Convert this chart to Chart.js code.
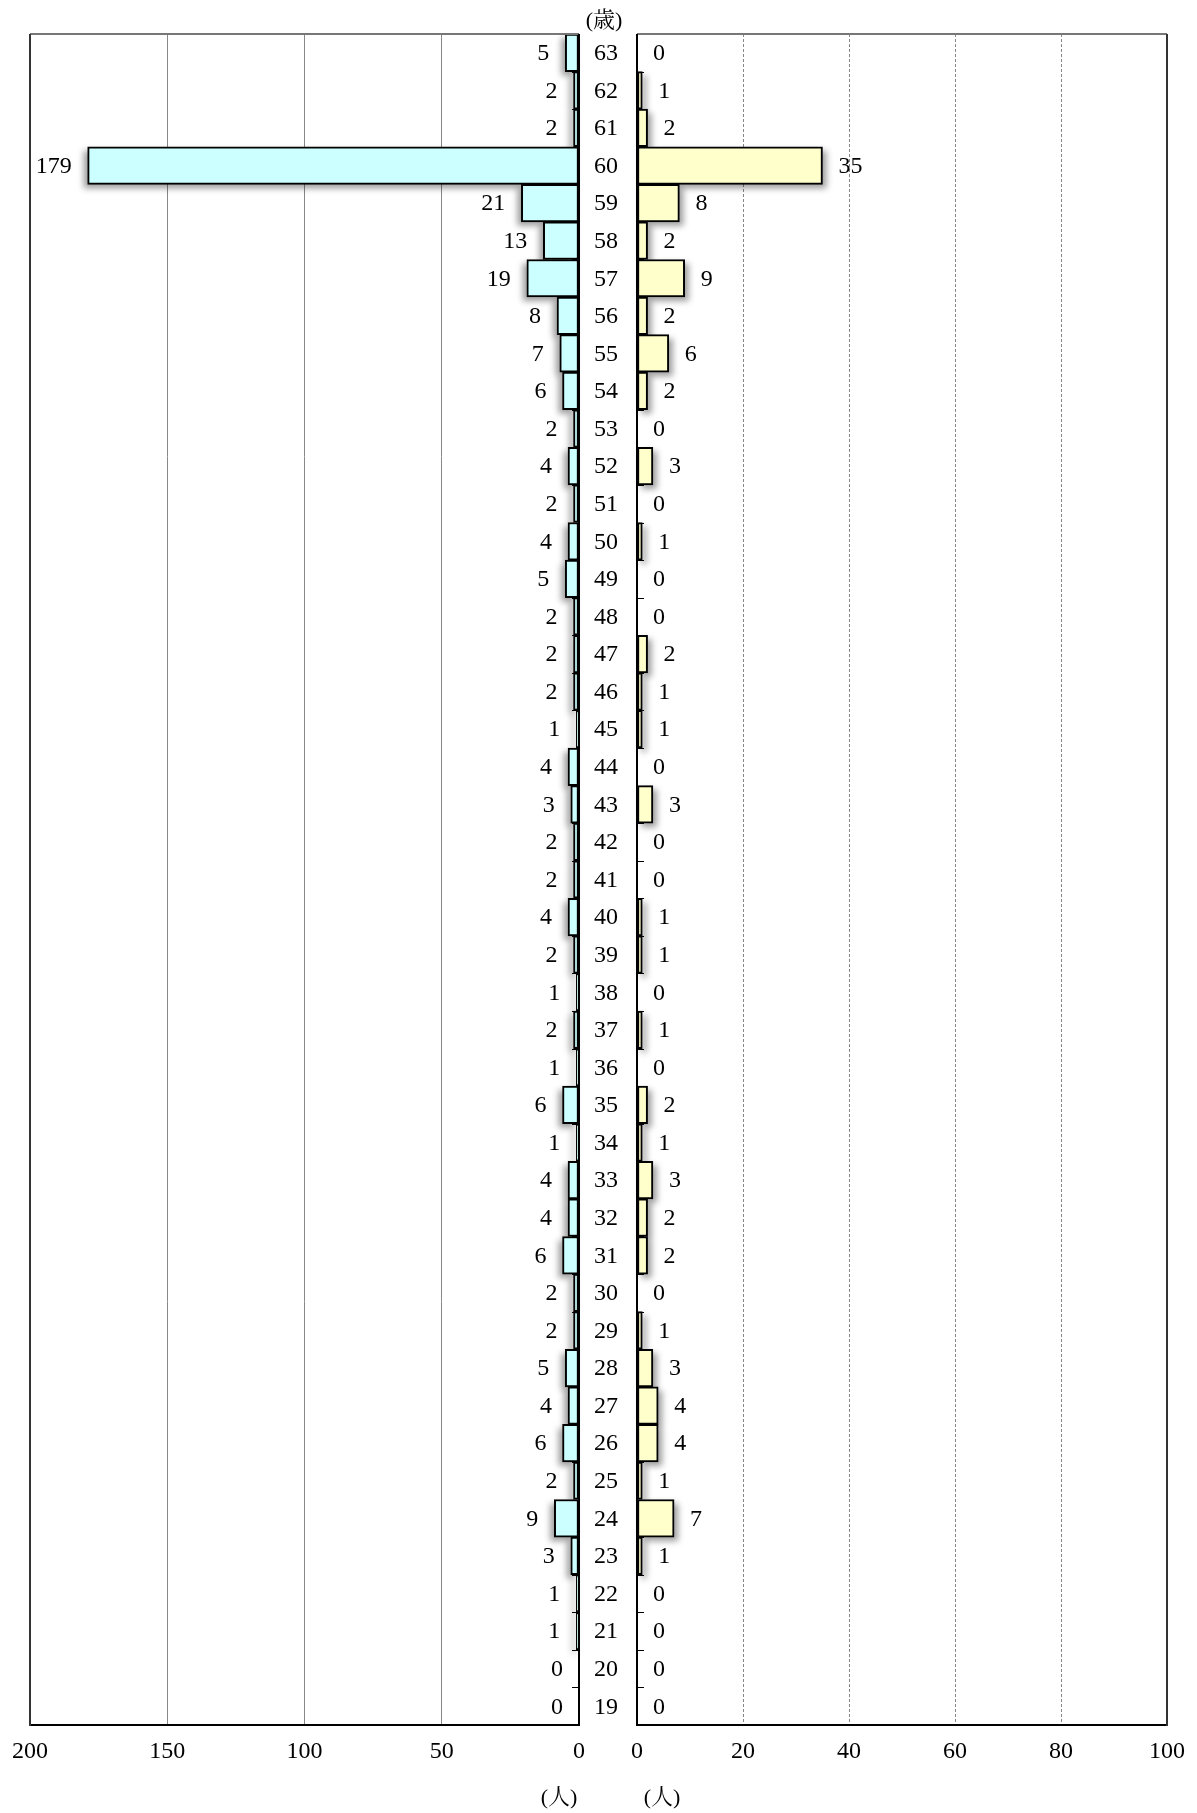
<!DOCTYPE html>
<html lang="ja">
<head>
<meta charset="utf-8">
<script src="https://cdn.jsdelivr.net/npm/chart.js@4.4.1/dist/chart.umd.min.js"></script>
<style>
  html, body { margin: 0; padding: 0; background: #fff; }
  #wrap { position: relative; width: 1197px; height: 1813px; }
  #left { position: absolute; left: 0; top: 0; }
  #right { position: absolute; left: 600px; top: 0; }
  .unit {
    position: absolute; transform: translateX(-50%);
    font: 22px/22px "Liberation Serif", "Noto Serif CJK JP", serif;
    color: #000; white-space: nowrap;
  }
</style>
</head>
<body>
<div id="wrap">
  <canvas id="left" width="640" height="1813"></canvas>
  <canvas id="right" width="597" height="1813"></canvas>
  <div class="unit" style="left:604px; top:9px">(歳)</div>
  <div class="unit" style="left:559px; top:1786px">(人)</div>
  <div class="unit" style="left:662px; top:1786px">(人)</div>
</div>
<script>
const ages = [63, 62, 61, 60, 59, 58, 57, 56, 55, 54, 53, 52, 51, 50, 49, 48, 47, 46, 45, 44, 43, 42, 41,
  40, 39, 38, 37, 36, 35, 34, 33, 32, 31, 30, 29, 28, 27, 26, 25, 24, 23, 22, 21, 20, 19];
const leftCounts = [5, 2, 2, 179, 21, 13, 19, 8, 7, 6, 2, 4, 2, 4, 5, 2, 2, 2, 1, 4, 3, 2, 2,
  4, 2, 1, 2, 1, 6, 1, 4, 4, 6, 2, 2, 5, 4, 6, 2, 9, 3, 1, 1, 0, 0];
const rightCounts = [0, 1, 2, 35, 8, 2, 9, 2, 6, 2, 0, 3, 0, 1, 0, 0, 2, 1, 1, 0, 3, 0, 0,
  1, 1, 0, 1, 0, 2, 1, 3, 2, 2, 0, 1, 3, 4, 4, 1, 7, 1, 0, 0, 0, 0];
const leftMax = 200, leftStep = 50;
const rightMax = 100, rightStep = 20;

const FONT = '"Liberation Serif", "Noto Serif CJK JP", serif';

function line(ctx, x1, y1, x2, y2) {
  ctx.beginPath();
  ctx.moveTo(x1, y1);
  ctx.lineTo(x2, y2);
  ctx.stroke();
}

// ticks, shadows, frame, value labels and age labels
function framePlugin(side) {
  const dir = side === 'left' ? -1 : 1;
  return {
    id: 'frame-' + side,
    beforeDatasetsDraw(chart) {
      const { ctx, scales: { x, y } } = chart;
      const zeroX = x.getPixelForValue(0);
      ctx.save();
      ctx.strokeStyle = '#000';
      ctx.lineWidth = 1;
      for (let i = 1; i < ages.length; i++) {
        const yy = Math.round((y.getPixelForValue(i - 1) + y.getPixelForValue(i)) / 2) + 0.5;
        line(ctx, zeroX, yy, zeroX + dir * 7, yy);
      }
      ctx.filter = 'blur(3px)';
      ctx.fillStyle = 'rgba(0,0,0,0.38)';
      chart.getDatasetMeta(0).data.forEach((bar) => {
        const p = bar.getProps(['x', 'y', 'base', 'height'], true);
        const w = Math.abs(p.x - p.base);
        if (w < 0.5) return;
        ctx.fillRect(Math.min(p.x, p.base) + dir * 4, p.y - p.height / 2 + 4, w, p.height);
      });
      ctx.restore();
    },
    afterDraw(chart) {
      const { ctx, chartArea: a, scales: { x } } = chart;
      const zeroX = x.getPixelForValue(0);
      ctx.save();
      ctx.lineWidth = 2;
      ctx.strokeStyle = '#777';
      line(ctx, a.left, a.top, a.right, a.top);
      ctx.strokeStyle = '#333';
      const farX = side === 'left' ? a.left : a.right;
      line(ctx, farX, a.top, farX, a.bottom + 1);
      ctx.strokeStyle = '#000';
      line(ctx, zeroX, a.top, zeroX, a.bottom + 1);

      ctx.font = '24px ' + FONT;
      ctx.fillStyle = '#000';
      ctx.textBaseline = 'middle';
      ctx.textAlign = side === 'left' ? 'right' : 'left';
      const values = chart.data.datasets[0].data;
      chart.getDatasetMeta(0).data.forEach((bar, i) => {
        ctx.fillText(String(values[i]), bar.x + dir * 16, bar.y + 1);
      });
      if (side === 'left') {
        ctx.textAlign = 'center';
        chart.getDatasetMeta(0).data.forEach((bar, i) => {
          ctx.fillText(String(ages[i]), a.right + 27, bar.y + 1);
        });
      }
      ctx.restore();
    }
  };
}

function makeChart(canvasId, side, values, max, step, fill, padding) {
  const edgeless = (c) => (c.tick && (c.tick.value === 0 || c.tick.value === max)) ? 'rgba(0,0,0,0)' : '#888';
  return new Chart(document.getElementById(canvasId), {
    type: 'bar',
    data: {
      labels: ages.map(String),
      datasets: [{
        data: values,
        backgroundColor: fill,
        borderColor: '#000',
        borderWidth: 2,
        borderSkipped: false,
        barPercentage: 1,
        categoryPercentage: 1
      }]
    },
    options: {
      indexAxis: 'y',
      responsive: false,
      animation: false,
      layout: { padding },
      plugins: { legend: { display: false }, tooltip: { enabled: false } },
      scales: {
        x: {
          reverse: side === 'left',
          min: 0,
          max: max,
          ticks: { stepSize: step, color: '#000', padding: 12, maxRotation: 0, font: { family: FONT, size: 24 } },
          grid: { color: edgeless, lineWidth: 1, drawTicks: false },
          border: { display: true, color: '#000', width: 2, dash: side === 'right' ? [3, 2] : [] },
          afterFit(s) { s.height = 50; }
        },
        y: { display: false }
      }
    },
    plugins: [framePlugin(side)]
  });
}

makeChart('left', 'left', leftCounts, leftMax, leftStep, '#ccffff',
  { left: 28, right: 61, top: 34, bottom: 38 });
makeChart('right', 'right', rightCounts, rightMax, rightStep, '#ffffcc',
  { left: 37, right: 30, top: 34, bottom: 38 });
</script>
</body>
</html>
